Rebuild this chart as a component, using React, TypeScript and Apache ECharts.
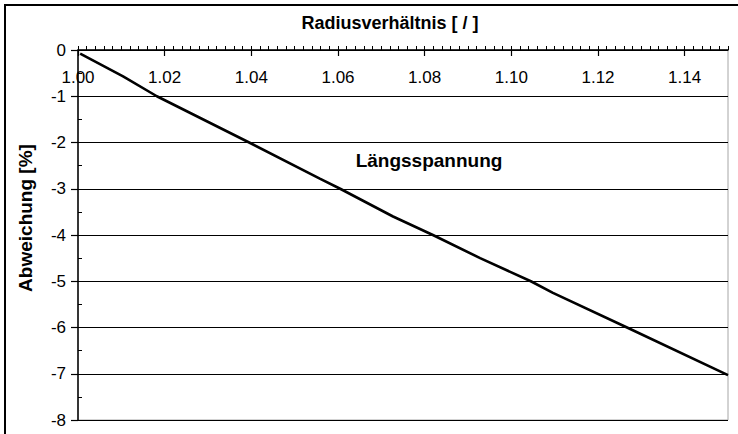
import React, { useEffect, useRef } from "react";
import * as echarts from "echarts";

const radiusRatio = [1.0005, 1.0104, 1.0182, 1.0395, 1.0558, 1.0605, 1.0727, 1.0819, 1.0928, 1.1045, 1.1096, 1.1267, 1.15];
const deviation = [-0.08, -0.57, -1.0, -2.0, -2.78, -3.0, -3.6, -4.0, -4.5, -5.0, -5.25, -6.0, -7.03];
const xTitle = "Radiusverhältnis [ / ]";
const yTitle = "Abweichung [%]";
const seriesLabel = "Längsspannung";

const FONT = "'Liberation Sans', Arial, sans-serif";

export default function App() {
  const ref = useRef<HTMLDivElement>(null);
  useEffect(() => {
    if (!ref.current) return;
    const chart = echarts.init(ref.current, null, { renderer: "svg" });
    const data = radiusRatio.map((x, i) => [x, deviation[i]]);
    chart.setOption({
      animation: false,
      backgroundColor: "#ffffff",
      grid: {
        left: 78,
        top: 50,
        width: 650,
        height: 370,
        show: true,
        borderColor: "#a6a6a6",
        borderWidth: 1,
        backgroundColor: "transparent",
      },
      xAxis: [
        {
          type: "value",
          position: "top",
          min: 1,
          max: 1.15,
          interval: 0.02,
          axisLine: { show: true, onZero: false, lineStyle: { color: "#000", width: 1.5 } },
          axisTick: { show: true, inside: true, length: 6, lineStyle: { color: "#000", width: 1.2 } },
          axisLabel: {
            inside: true,
            margin: 19,
            color: "#000",
            fontSize: 17,
            fontFamily: FONT,
            formatter: (v: number) => v.toFixed(2),
            showMaxLabel: false,
          },
          splitLine: { show: false },
        },
        {
          type: "value",
          position: "top",
          min: 1,
          max: 1.15,
          interval: 0.002,
          axisLine: { show: false, onZero: false },
          axisTick: { show: true, inside: false, length: 4, lineStyle: { color: "#000", width: 1 } },
          axisLabel: { show: false },
          splitLine: { show: false },
        },
      ],
      yAxis: [
        {
          type: "value",
          position: "left",
          min: -8,
          max: 0,
          interval: 1,
          axisLine: { show: true, onZero: false, lineStyle: { color: "#000", width: 1.5 } },
          axisTick: { show: true, inside: false, length: 7, lineStyle: { color: "#000", width: 1.2 } },
          axisLabel: { margin: 12, color: "#000", fontSize: 17, fontFamily: FONT },
          splitLine: { show: true, lineStyle: { color: "#000", width: 1.2 } },
        },
        {
          type: "value",
          position: "left",
          min: -8,
          max: 0,
          interval: 0.5,
          axisLine: { show: false, onZero: false },
          axisTick: { show: true, inside: true, length: 4, lineStyle: { color: "#000", width: 1 } },
          axisLabel: { show: false },
          splitLine: { show: false },
        },
      ],
      series: [
        {
          type: "line",
          xAxisIndex: 0,
          yAxisIndex: 0,
          data,
          showSymbol: false,
          symbol: "none",
          lineStyle: { color: "#000", width: 2.6 },
          z: 5,
        },
      ],
      graphic: [
        {
          type: "rect",
          shape: { x: 5, y: 5, width: 900, height: 600 },
          style: { fill: "none", stroke: "#000", lineWidth: 2 },
          silent: true,
        },
        {
          type: "text",
          x: 390,
          y: 23,
          style: {
            text: xTitle,
            fill: "#000",
            font: `bold 18px ${FONT}`,
            textAlign: "center",
            textVerticalAlign: "middle",
          },
        },
        {
          type: "text",
          x: 25,
          y: 218,
          rotation: Math.PI / 2,
          style: {
            text: yTitle,
            fill: "#000",
            font: `bold 19px ${FONT}`,
            textAlign: "center",
            textVerticalAlign: "middle",
          },
        },
        {
          type: "text",
          x: 429,
          y: 160,
          style: {
            text: seriesLabel,
            fill: "#000",
            font: `bold 19px ${FONT}`,
            textAlign: "center",
            textVerticalAlign: "middle",
          },
        },
      ],
    });
    return () => chart.dispose();
  }, []);
  return (
    <div
      ref={ref}
      style={{ position: "fixed", left: 0, top: 0, width: 738, height: 434, background: "#fff" }}
    />
  );
}
